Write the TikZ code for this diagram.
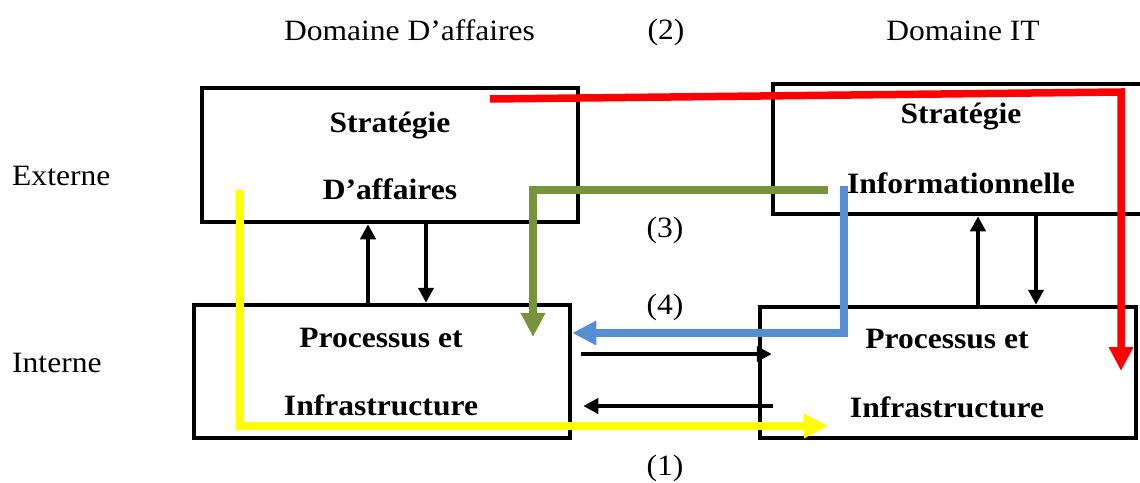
\documentclass[tikz,border=0pt]{standalone}
\usepackage{fontspec}
\setmainfont{Liberation Serif}[FakeStretch=1.07]
\usetikzlibrary{arrows.meta}
\definecolor{flowred}{RGB}{255,0,0}
\definecolor{flowblue}{RGB}{85,142,213}
\definecolor{flowgreen}{RGB}{119,147,60}
\definecolor{flowyellow}{RGB}{255,255,0}
\begin{document}
\begin{tikzpicture}[x=1pt,y=-1pt,
  domainbox/.style={draw, line width=4.5pt, inner sep=0pt, minimum width=376pt},
  boxtext/.style={font=\fontsize{29.5}{34}\selectfont\bfseries, anchor=base, inner sep=0pt},
  plainlabel/.style={font=\fontsize{29.5}{34}\selectfont, anchor=base, inner sep=0pt},
  link/.style={line width=4.2pt, -{Triangle[length=15pt,width=15pt]}},
  flow/.style={line width=7.5pt, -{Triangle[length=24pt,width=23pt]}, miter limit=10},
]
\clip (0,0) rectangle (1140,482);
\fill[white] (0,0) rectangle (1140,482);

% column and row headings
\node[plainlabel] (dom1) at (409.5,40) {Domaine D’affaires};
\node[plainlabel] (n2) at (666,39) {(2)};
\node[plainlabel] (dom2) at (963,40) {Domaine IT};
\node[plainlabel, anchor=base west] (ext) at (12,185) {Externe};
\node[plainlabel, anchor=base west] (int) at (12,372) {Interne};
\node[plainlabel] (n3) at (665,237) {(3)};
\node[plainlabel] (n4) at (665,314) {(4)};
\node[plainlabel] (n1) at (665,475) {(1)};

% the four domains
\node[domainbox, minimum height=134pt] (ba) at (390,155) {};
\node[domainbox, minimum width=390pt, minimum height=130pt] (bi) at (968,149) {};
\node[domainbox, minimum height=133pt] (pa) at (382,371.5) {};
\node[domainbox, minimum height=131pt] (pi) at (948,372.5) {};

\node[boxtext] (ba1) at (390,132) {Stratégie};
\node[boxtext] (ba2) at (390,199) {D’affaires};
\node[boxtext] (bi1) at (961,123) {Stratégie};
\node[boxtext] (bi2) at (961,193) {Informationnelle};
\node[boxtext] (pa1) at (381,347) {Processus et};
\node[boxtext] (pa2) at (381,415) {Infrastructure};
\node[boxtext] (pi1) at (947,348) {Processus et};
\node[boxtext] (pi2) at (947,417) {Infrastructure};

% vertical links between strategy and infrastructure
\draw[link] ([xshift=-14pt]pa.north) -- ([xshift=-14pt]pa.north |- ba.south);
\draw[link] ([xshift=36pt]ba.south) -- ([xshift=36pt]ba.south |- pa.north);
\draw[link] ([xshift=30pt]pi.north) -- ([xshift=30pt]pi.north |- bi.south);
\draw[link] ([xshift=88pt]pi.north |- bi.south) -- ([xshift=88pt]pi.north);

% horizontal links between the two infrastructures
\draw[link, shorten <=9pt, shorten >=-14pt]
  ([yshift=17.5pt]pa.east) -- ([yshift=17.5pt]pa.east -| pi.west);
\draw[link, shorten <=-15pt, shorten >=11pt]
  ([yshift=-34.5pt]pa.east -| pi.west) -- ([yshift=-34.5pt]pa.east);

% alignment perspectives
\coordinate (ystart) at (240,190);
\coordinate (yend) at (828,426);
\draw[flow, flowyellow] (ystart) |- (yend);

\coordinate (rstart) at (490,99);
\coordinate (rturn) at (1121,92);
\coordinate (rend) at (1121,371);
\draw[flow, flowred] (rstart) -- (rturn) -- (rend);

\coordinate (gstart) at (828,190);
\coordinate (gend) at (533,337);
\draw[flow, flowgreen] (gstart) -| (gend);

\coordinate (bstart) at (844,186);
\draw[flow, flowblue] (bstart) |- ([yshift=38.5pt]pa.east);
\end{tikzpicture}
\end{document}
